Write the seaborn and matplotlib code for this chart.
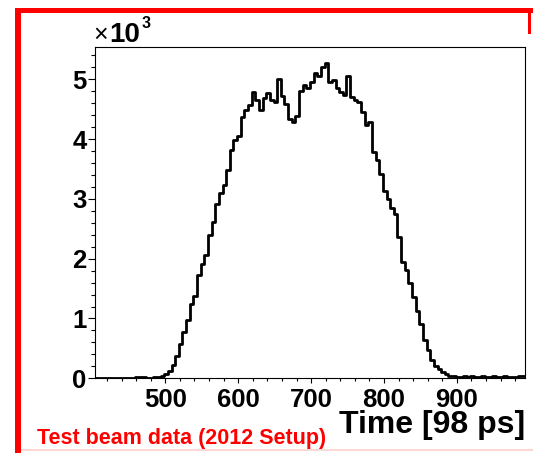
import numpy as np
import pandas as pd
import matplotlib
matplotlib.use("Agg")
import matplotlib.pyplot as plt
from matplotlib.patches import Rectangle
from matplotlib.ticker import MultipleLocator
import seaborn as sns

# ---- data (counts in units of 10^3, 5-unit bins starting at 403.5) ----
bin_start = 403.5
bin_width = 5.0
counts_k = [
    0.006, 0.006, 0.007, 0.006, 0.007, 0.006, 0.008, 0.007, 0.008, 0.008,
    0.010, 0.028, 0.030, 0.028, 0.012, 0.008, 0.018, 0.020, 0.040, 0.070,
    0.120, 0.22, 0.37, 0.57, 0.77, 0.97, 1.24, 1.37, 1.72, 1.91,
    2.06, 2.39, 2.61, 2.91, 3.10, 3.23, 3.49, 3.81, 3.99, 4.06,
    4.37, 4.48, 4.57, 4.79, 4.65, 4.49, 4.68, 4.77, 4.65, 4.62,
    5.00, 4.72, 4.58, 4.33, 4.29, 4.38, 4.81, 4.90, 4.85, 4.95,
    5.10, 5.05, 5.20, 5.27, 4.96, 4.99, 4.85, 4.78, 4.73, 5.05,
    4.70, 4.66, 4.62, 4.45, 4.24, 4.28, 3.78, 3.65, 3.42, 3.14,
    2.99, 2.85, 2.75, 2.37, 1.94, 1.81, 1.59, 1.36, 1.13, 0.90,
    0.64, 0.47, 0.30, 0.20, 0.16, 0.105, 0.067, 0.045, 0.035, 0.030,
    0.030, 0.032, 0.030, 0.038, 0.030, 0.030, 0.032, 0.030, 0.030, 0.036,
    0.030, 0.030, 0.032, 0.030, 0.030, 0.030, 0.032, 0.040,
]
x_label = "Time [98 ps]"
y_exp_times = "×"
y_exp_base = "10"
y_exponent = "3"
caption = "Test beam data (2012 Setup)"
x_ticks_major = [500, 600, 700, 800, 900]
y_ticks_major = [0, 1, 2, 3, 4, 5]

edges = [float(e) for e in bin_start + bin_width * np.arange(len(counts_k) + 1)]
centers = [e + bin_width / 2 for e in edges[:-1]]
df = pd.DataFrame({"time": centers, "counts": counts_k})

sns.set_style("ticks")
plt.rcParams["font.family"] = ["Liberation Sans", "DejaVu Sans"]
plt.rcParams["font.weight"] = "bold"
for k in ["text.color", "axes.labelcolor", "xtick.color", "ytick.color",
          "axes.edgecolor"]:
    plt.rcParams[k] = "black"

W, H = 533, 453
fig = plt.figure(figsize=(W / 100, H / 100), dpi=100)
fig.patch.set_facecolor("white")
ax = fig.add_axes([95 / W, 1 - 378.3 / H, (525 - 95) / W, (378.3 - 47) / H])

sns.histplot(data=df, x="time", weights="counts", bins=edges, element="step",
             fill=False, color="black", linewidth=2.0, ax=ax)

ax.set_xlim(edges[0], edges[-1])
ax.set_ylim(0, 5.54)
ax.set_xlabel("")
ax.set_ylabel("")
ax.set_xticks(x_ticks_major)
ax.set_yticks(y_ticks_major)
ax.xaxis.set_minor_locator(MultipleLocator(20))
ax.yaxis.set_minor_locator(MultipleLocator(0.2))
ax.tick_params(axis="x", which="major", direction="out", length=3.5, width=0.8,
               labelsize=18.5, pad=3.5, colors="black")
ax.tick_params(axis="x", which="minor", direction="out", length=2, width=0.8,
               colors="black")
ax.tick_params(axis="y", which="major", direction="out", length=5, width=0.8,
               labelsize=18.5, pad=1, colors="black")
ax.tick_params(axis="y", which="minor", direction="out", length=3, width=0.8,
               colors="black")
for lab in ax.get_xticklabels() + ax.get_yticklabels():
    lab.set_fontweight("bold")
    lab.set_color("black")
for s in ax.spines.values():
    s.set_visible(True)
    s.set_linewidth(0.8)
    s.set_color("black")

# exponent label  (x10^3)
fig.text(93.5 / W, 1 - 42 / H, y_exp_times, fontsize=18, fontweight="normal",
         ha="left", va="baseline", color="black")
fig.text(109 / W, 1 - 42 / H, y_exp_base, fontsize=20, fontweight="bold",
         ha="left", va="baseline", color="black")
fig.text(142 / W, 1 - 28.5 / H, y_exponent, fontsize=11.5, fontweight="bold",
         ha="left", va="baseline", color="black")

# axis title and caption
fig.text(525 / W, 1 - 433.5 / H, x_label, fontsize=23, fontweight="bold",
         ha="right", va="baseline", color="black")
fig.text(37 / W, 1 - 444 / H, caption, fontsize=15.5, fontweight="bold",
         color="#ff0000", ha="left", va="baseline")

# red canvas frame
red = "#ff0000"
fig.add_artist(Rectangle((15 / W, 1 - 13 / H), (W - 15) / W, 5 / H,
                         transform=fig.transFigure, color=red, lw=0))
fig.add_artist(Rectangle((15 / W, 0), 6 / W, 1 - 8 / H,
                         transform=fig.transFigure, color=red, lw=0))
fig.add_artist(Rectangle((528 / W, 1 - 34 / H), 3 / W, 26 / H,
                         transform=fig.transFigure, color=red, lw=0))
fig.add_artist(Rectangle((21 / W, 1 - 451 / H), (W - 21) / W, 2 / H,
                         transform=fig.transFigure, color="#ffd6d6", lw=0))

fig.savefig("out.png", dpi=100, facecolor="white")
